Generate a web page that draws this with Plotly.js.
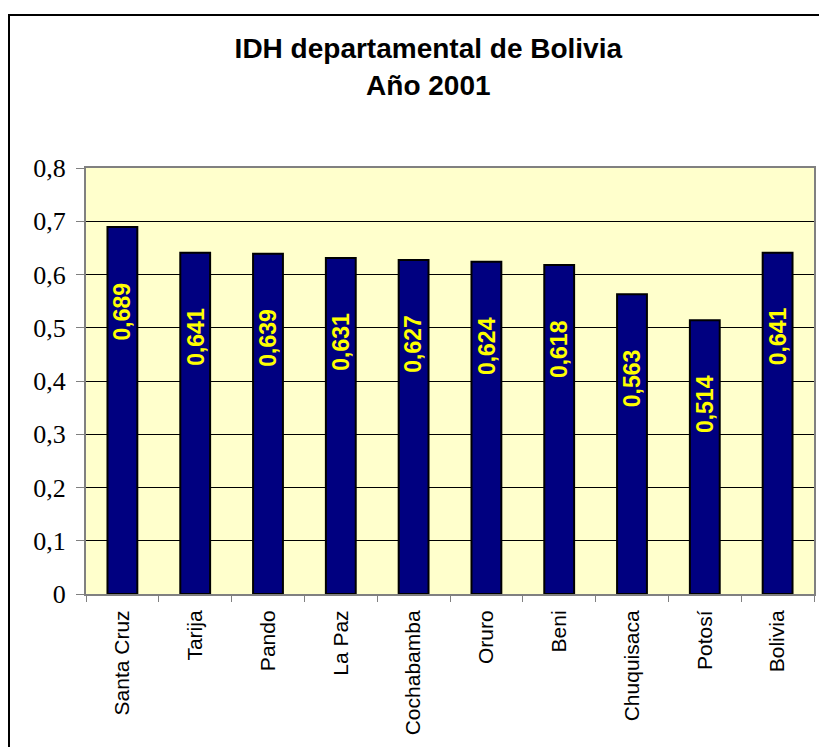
<!DOCTYPE html>
<html>
<head>
<meta charset="utf-8">
<script src="https://cdn.plot.ly/plotly-3.0.1.min.js"></script>
<style>
  body { margin: 0; background: #fff; }
  #chart { width: 819px; height: 747px; }
  #frame { position: absolute; left: 8px; top: 14px; width: 830px; height: 760px;
           border: 2px solid #000; pointer-events: none; }
</style>
</head>
<body>
<div id="chart"></div>
<div id="frame"></div>
<script>
// IDH by department, 2001
const departamentos = ['Santa Cruz', 'Tarija', 'Pando', 'La Paz', 'Cochabamba',
                       'Oruro', 'Beni', 'Chuquisaca', 'Potosí', 'Bolivia'];
const idh = [0.689, 0.641, 0.639, 0.631, 0.627, 0.624, 0.618, 0.563, 0.514, 0.641];
const yTicks = [0, 0.1, 0.2, 0.3, 0.4, 0.5, 0.6, 0.7, 0.8];

const fmt = v => v.toFixed(3).replace('.', ',');

const trace = {
    x: departamentos,
    y: idh,
    type: 'bar',
    marker: { color: '#000080', line: { color: '#000', width: 2 } },
    hoverinfo: 'x+y'
};

// value labels, rotated, sitting a bit below the top of each bar
const labels = departamentos.map((d, i) => ({
    x: d,
    y: idh[i],
    xref: 'x',
    yref: 'y',
    text: fmt(idh[i]),
    showarrow: false,
    textangle: -90,
    yanchor: 'top',
    yshift: -53,
    font: { family: 'Liberation Sans, Arial, sans-serif', size: 23, color: '#ffff00', weight: 'bold' }
}));

const layout = {
    width: 819,
    height: 747,
    margin: { l: 86, r: 5, t: 168, b: 153 },
    paper_bgcolor: '#fff',
    plot_bgcolor: '#ffffcc',
    separators: ',.',
    bargap: 0.59,
    showlegend: false,
    title: {
        text: '<b>IDH departamental de Bolivia<br>Año 2001</b>',
        font: { family: 'Liberation Sans, Arial, sans-serif', size: 28, color: '#000' },
        x: 0.523,
        xanchor: 'center',
        y: 0.922,
        yanchor: 'top'
    },
    xaxis: {
        type: 'category',
        tickangle: -90,
        ticks: 'outside',
        tickson: 'boundaries',
        ticklen: 6,
        tickcolor: '#808080',
        ticklabelstandoff: 6,
        showline: true,
        linecolor: '#808080',
        linewidth: 2,
        mirror: true,
        showgrid: false,
        tickfont: { family: 'Liberation Sans, Arial, sans-serif', size: 21, color: '#000' }
    },
    yaxis: {
        range: [0, 0.8],
        tickvals: yTicks,
        ticks: 'outside',
        ticklen: 8,
        tickcolor: '#808080',
        ticklabelstandoff: 5,
        showline: true,
        linecolor: '#808080',
        linewidth: 2,
        mirror: true,
        showgrid: true,
        gridcolor: '#000',
        gridwidth: 1,
        zeroline: false,
        tickfont: { family: 'Liberation Serif, Times New Roman, serif', size: 26, color: '#000' }
    },
    annotations: labels
};

Plotly.newPlot('chart', [trace], layout, { displayModeBar: false, staticPlot: true });
</script>
</body>
</html>
